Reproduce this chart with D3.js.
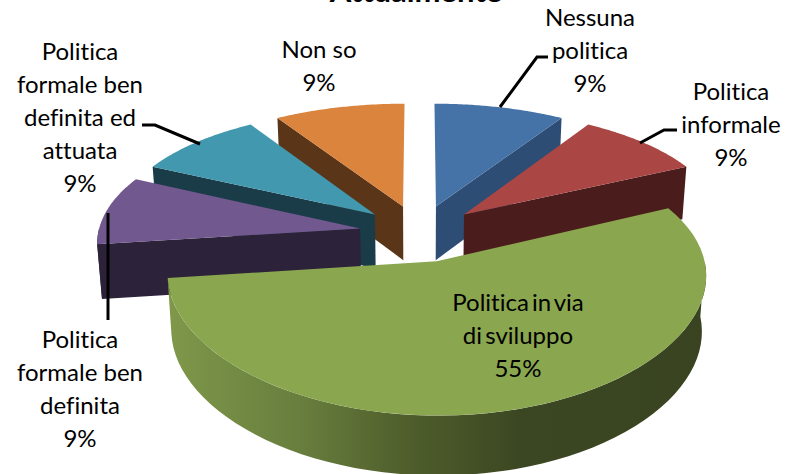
<!DOCTYPE html>
<html>
<head>
<meta charset="utf-8">
<script src="https://cdn.jsdelivr.net/npm/d3@7"></script>
<style>
	html, body { margin:0; padding:0; background:#fff; }
	svg { display:block; }
	text { font-family:Lato, "Open Sans", sans-serif; fill:#000; font-variant-ligatures:none; }
</style>
</head>
<body>
<div id="chart"></div>
<script>
// data
const categories = [
	"Nessuna politica",
	"Politica informale",
	"Politica in via di sviluppo",
	"Politica formale ben definita",
	"Politica formale ben definita ed attuata",
	"Non so"
];
const values = [9,9,55,9,9,9];
const labelLines = [
	["Nessuna","politica"],
	["Politica","informale"],
	["Politica in via","di sviluppo"],
	["Politica","formale ben","definita"],
	["Politica","formale ben","definita ed","attuata"],
	["Non so"]
];
const topColors = ["#4572a7","#aa4644","#8aa64f","#71588f","#4198af","#db843d"];
const wallColors = ["#2e4d74","#4a1c1c","#3a4521","#2c2239","#1a3c48","#5a3518"];
const title = "Attualmente";

// set up
const w = 787;
const h = 474;
const cx = 419.5;
const cy = 233;
const rx = 262;		// x scale of the disc
const ry = 124;		// y scale of the disc
const perspX = 0.1;	// far side gets smaller
const perspY = 0.14;
const explode = 0.23;

const svg = d3.select("#chart").append("svg")
	.attr("width",w)
	.attr("height",h);

// side of the big slice is shaded left to right
const grad = svg.append("defs").append("linearGradient")
	.attr("id","sideGrad")
	.attr("gradientUnits","userSpaceOnUse")
	.attr("x1",172).attr("x2",708).attr("y1",0).attr("y2",0);
[[0,"#7e9749"],[0.24,"#687e3e"],[0.43,"#505f2c"],[0.65,"#3b4722"],[1,"#394321"]]
	.forEach(s=>grad.append("stop").attr("offset",s[0]).attr("stop-color",s[1]));

const pie = d3.pie().sort(null).startAngle(0).endAngle(2*Math.PI);
const slices = pie(values).map((d,i)=>({...d,i:i,mid:(d.startAngle+d.endAngle)/2}));

// point on a slice -> screen
function project(d,r,a){
	const X = explode*Math.sin(d.mid) + r*Math.sin(a);
	const Y = explode*Math.cos(d.mid) + r*Math.cos(a);
	return [cx + rx*X/(1+perspX*Y), cy - ry*Y/(1+perspY*Y)];
}
// same point at the bottom of the wall, walls get taller towards us
function lower(p){
	return [cx + (p[0]-cx)*0.985, p[1] + 54.5 + (p[1]-cy)*0.03];
}

const line = d3.line();
const arcPts = (d,a0,a1)=>d3.range(0,61).map(t=>project(d,1,a0+(a1-a0)*t/60));

// painters order, back to front
const order = [5,0,4,1,3,2];
const deg90 = Math.PI/2;
const deg270 = 3*Math.PI/2;

order.forEach(idx=>{
	const d = slices[idx];
	const g = svg.append("g").attr("class","slice");

	// radial wall facing us
	let edge = null;
	if (d.mid<deg90) edge = d.endAngle;
	if (d.mid>deg270) edge = d.startAngle;
	if (edge!==null){
		const a = project(d,0,0);
		const b = project(d,1,edge);
		g.append("path")
			.attr("d",line([a,b,lower(b),lower(a)])+"Z")
			.attr("fill",wallColors[idx]);
	}

	// outer wall, only the part facing us
	const a0 = Math.max(d.startAngle,deg90);
	const a1 = Math.min(d.endAngle,deg270);
	if (a1>a0){
		const top = arcPts(d,a0,a1);
		const bottom = top.map(lower).reverse();
		g.append("path")
			.attr("d",line(top.concat(bottom))+"Z")
			.attr("fill",idx===2 ? "url(#sideGrad)" : wallColors[idx]);
	}

	// top face
	const face = [project(d,0,0)].concat(arcPts(d,d.startAngle,d.endAngle));
	g.append("path")
		.attr("d",line(face)+"Z")
		.attr("fill",topColors[idx]);
});

// leader lines
const leaders = [
	[[500,107],[537,57],[548,57]],
	[[640,143],[664,130],[677,130]],
	[[108,213],[108,320]],
	[[142,125],[155,125],[200,144]]
];
svg.selectAll(".leader")
	.data(leaders)
	.enter()
	.append("path")
	.attr("class","leader")
	.attr("d",d=>line(d))
	.attr("fill","none")
	.attr("stroke","#000")
	.attr("stroke-width",3);

// labels: x centre and first baseline
const labelPos = [[590,26],[731,100],[518,311],[80,348],[80,60],[319,58]];
const lineStep = 33;

const labels = svg.selectAll(".label")
	.data(slices)
	.enter()
	.append("text")
	.attr("class","label")
	.attr("text-anchor","middle")
	.attr("font-size",24)
	.attr("word-spacing",d=>d.i===2 ? -3 : 0);

labels.each(function(d){
	const rows = labelLines[d.i].concat([d.value+"%"]);
	d3.select(this).selectAll("tspan")
		.data(rows)
		.enter()
		.append("tspan")
		.attr("x",labelPos[d.i][0])
		.attr("y",(r,j)=>labelPos[d.i][1]+j*lineStep)
		.text(r=>r);
});

// title, cut off by the top edge in the source
svg.append("text")
	.attr("x",416)
	.attr("y",2)
	.attr("text-anchor","middle")
	.attr("font-size",31)
	.attr("font-weight",700)
	.text(title);
</script>
</body>
</html>
